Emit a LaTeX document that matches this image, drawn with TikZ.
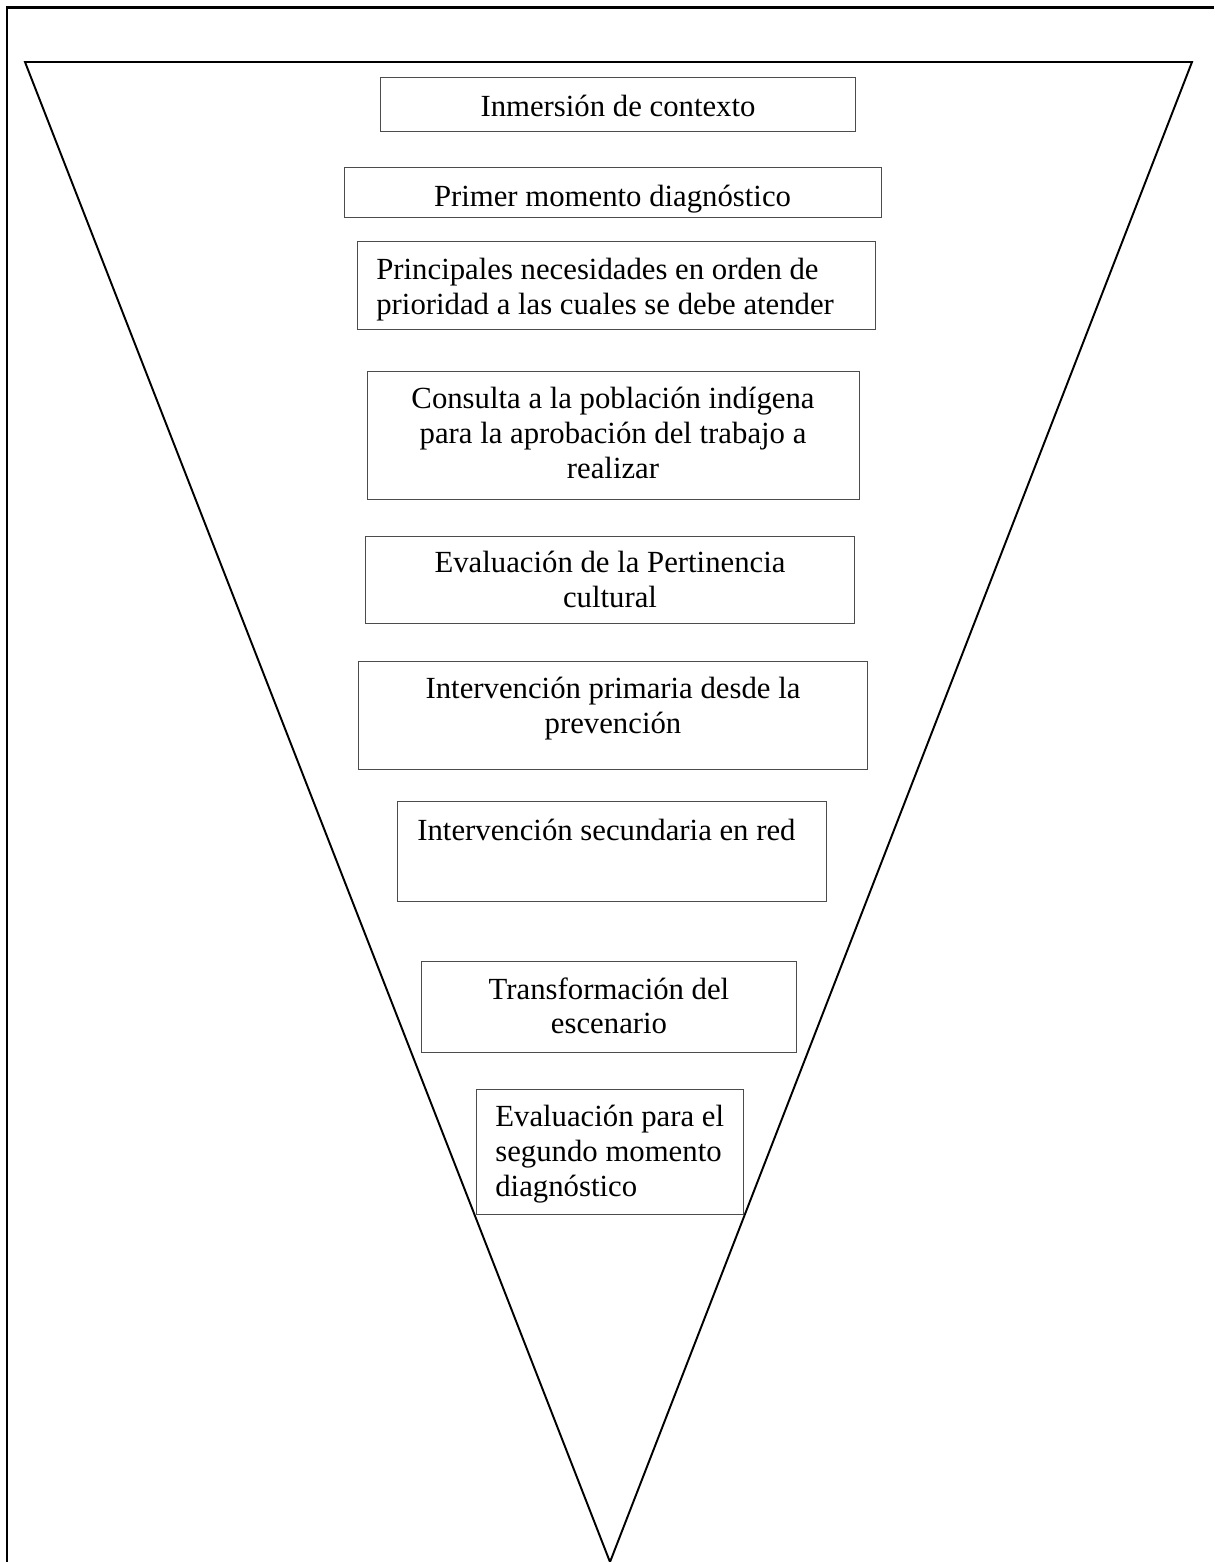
\documentclass[tikz,border=0pt]{standalone}
\usepackage{fontspec}
\setmainfont{Liberation Serif}
\usepackage{tikz}

\tikzset{
  caja/.style={shape=rectangle,draw=black!70,line width=0.7pt,fill=white,inner sep=0pt,anchor=north west},
  texto/.style={inner sep=0pt,font=\fontsize{17.5}{19.9}\selectfont,execute at begin node=\strut}
}

\begin{document}
\begin{tikzpicture}[x=0.02cm,y=-0.02cm]
\useasboundingbox (0,0) rectangle (1214,1562);
\draw[line width=1.7pt] (7,1562) -- (7,7.5) -- (1214,7.5);
\draw[line width=1.1pt,line join=miter] (25,62) -- (1192,62) -- (610,1562) -- cycle;
\node[caja,minimum width=9.5cm,minimum height=1.08cm] (inmersion) at (380,77) {};
\node[caja,minimum width=10.74cm,minimum height=1cm] (primer) at (344,167) {};
\node[caja,minimum width=10.36cm,minimum height=1.76cm] (necesidades) at (357,241) {};
\node[caja,minimum width=9.84cm,minimum height=2.56cm] (consulta) at (367,371) {};
\node[caja,minimum width=9.78cm,minimum height=1.74cm] (pertinencia) at (365,536) {};
\node[caja,minimum width=10.18cm,minimum height=2.16cm] (primaria) at (358,661) {};
\node[caja,minimum width=8.58cm,minimum height=2cm] (secundaria) at (397,801) {};
\node[caja,minimum width=7.5cm,minimum height=1.82cm] (transformacion) at (421,961) {};
\node[caja,minimum width=5.34cm,minimum height=2.5cm] (segundo) at (476,1089) {};
\node[texto,anchor=north] (t-inmersion) at (618,92) {Inmersión de contexto};
\node[texto,anchor=north] (t-primer) at (612.5,182) {Primer momento diagnóstico};
\node[texto,anchor=north west,align=left] (t-necesidades) at (376,258) {Principales necesidades en orden de\\prioridad a las cuales se debe atender};
\node[texto,anchor=north,align=center] (t-consulta) at (613,387) {Consulta a la población indígena\\para la aprobación del trabajo a\\realizar};
\node[texto,anchor=north,align=center] (t-pertinencia) at (610,551) {Evaluación de la Pertinencia\\cultural};
\node[texto,anchor=north,align=center] (t-primaria) at (613,677) {Intervención primaria desde la\\prevención};
\node[texto,anchor=north west] (t-secundaria) at (417,816) {Intervención secundaria en red};
\node[texto,anchor=north,align=center] (t-transformacion) at (609,977) {Transformación del\\escenario};
\node[texto,anchor=north west,align=left] (t-segundo) at (495,1105) {Evaluación para el\\segundo momento\\diagnóstico};
\end{tikzpicture}
\end{document}
